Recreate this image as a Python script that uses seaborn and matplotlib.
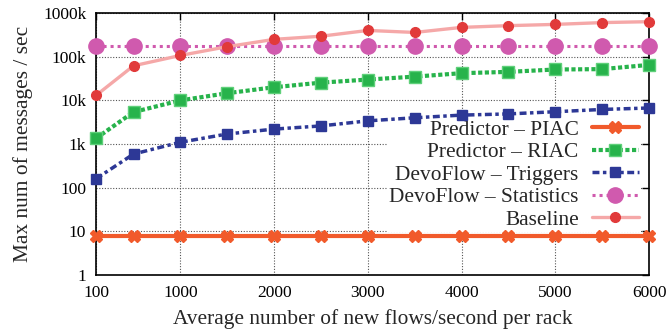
import matplotlib
matplotlib.use("Agg")
import matplotlib.pyplot as plt
import seaborn as sns
import pandas as pd

# Arrival rate of new flows per rack (flows/second)
flow_rates = [100, 500, 1000, 1500, 2000, 2500, 3000, 3500, 4000, 4500, 5000, 5500, 6000]

# Maximum number of controller messages per second for each scheme
predictor_piac = [8, 8, 8, 8, 8, 8, 8, 8, 8, 8, 8, 8, 8]
predictor_riac = [1350, 5400, 10000, 14600, 20000, 25500, 30000, 35000, 42000, 45000, 51000, 52000, 65000]
devoflow_triggers = [160, 590, 1100, 1700, 2200, 2600, 3400, 4000, 4600, 4900, 5500, 6200, 6700]
devoflow_statistics = [180000] * 13
baseline = [13000, 62000, 107000, 170000, 250000, 295000, 400000, 360000, 470000, 515000, 550000, 605000, 635000]

series_names = ["Predictor – PIAC", "Predictor – RIAC", "DevoFlow – Triggers",
                "DevoFlow – Statistics", "Baseline"]
y_ticks = [1, 10, 100, 1000, 10000, 100000, 1000000]
y_tick_labels = ["1", "10", "100", "1k", "10k", "100k", "1000k"]
x_ticks = [100, 1000, 2000, 3000, 4000, 5000, 6000]

sns.set_style("white")
plt.rcParams["font.family"] = ["Liberation Serif", "DejaVu Serif"]

fig = plt.figure(figsize=(6.7, 3.35), dpi=100)
ax = fig.add_axes([0.1433, 0.179, 0.8254, 0.782])

styles = [
    dict(color="#f15a2b", lw=3.0, ls="-", marker="X", ms=9, mec="#f15a2b", mfc="#f15a2b"),
    dict(color="#27b34b", lw=3.0, ls=(0, (1, 0.6)), marker="s", ms=9, mec="#5fd07a", mfc="#27b34b"),
    dict(color="#2d3896", lw=2.5, ls=(0, (2, 1, 1, 1)), marker="s", ms=7, mec="#2d3896", mfc="#2d3896"),
    dict(color="#d05aae", lw=2.2, ls=(0, (1, 1.3)), marker="o", ms=11, mec="#d05aae", mfc="#d05aae"),
    dict(color="#f5a8a8", lw=2.4, ls="-", marker="o", ms=7, mec="#e13a3a", mfc="#e13a3a"),
]
values = [predictor_piac, predictor_riac, devoflow_triggers, devoflow_statistics, baseline]

for name, vals, st in zip(series_names, values, styles):
    df = pd.DataFrame({"rate": flow_rates, "msgs": vals})
    sns.lineplot(data=df, x="rate", y="msgs", ax=ax, label=name,
                 color=st["color"], linewidth=st["lw"], linestyle=st["ls"],
                 marker=st["marker"], markersize=st["ms"],
                 markeredgecolor=st["mec"], markerfacecolor=st["mfc"],
                 markeredgewidth=1.0, clip_on=False, zorder=3)

ax.set_yscale("log")
ax.set_xlim(100, 6000)
ax.set_ylim(1, 1000000)
ax.set_yticks(y_ticks)
ax.set_yticklabels(y_tick_labels)
ax.yaxis.set_minor_locator(matplotlib.ticker.NullLocator())
ax.set_xticks(x_ticks)
ax.set_xticklabels([str(t) for t in x_ticks])

ax.grid(True, which="major", color="#555555", linestyle=(0, (1, 1.5)), linewidth=0.8)
ax.tick_params(axis="both", which="major", direction="in", length=5, width=1,
               top=True, right=True, labelsize=12.5, pad=7, colors="black")
for sp in ax.spines.values():
    sp.set_color("black")
    sp.set_linewidth(1.2)

ax.set_xlabel("Average number of new flows/second per rack", fontsize=15.4, labelpad=6)
ax.set_ylabel("Max num of messages / sec", fontsize=15.4, labelpad=7)

leg = ax.legend(loc="lower right", bbox_to_anchor=(0.985, 0.165), markerfirst=False,
                frameon=True, fancybox=False, framealpha=1.0, edgecolor="none",
                facecolor="white", fontsize=15.4, handlelength=2.2,
                labelspacing=0.12, borderpad=0.1, handletextpad=0.6,
                borderaxespad=0.0)
leg.set_zorder(2.5)

fig.savefig("out.png", dpi=100)
